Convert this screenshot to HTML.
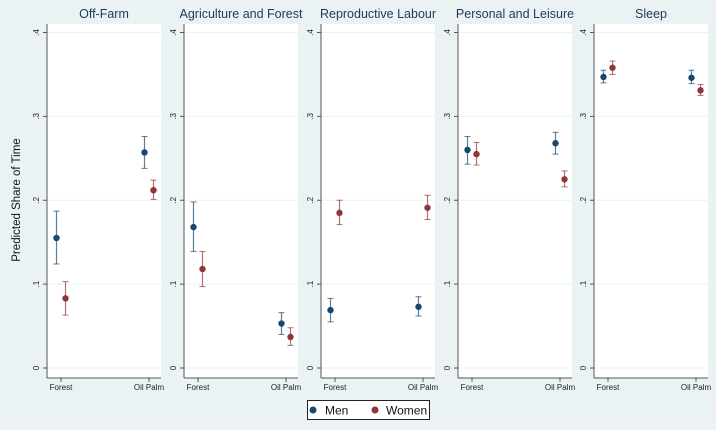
<!DOCTYPE html>
<html><head><meta charset="utf-8"><style>
body{margin:0;background:#eaf2f3;}
svg{display:block;font-family:"Liberation Sans",sans-serif;}
</style></head><body>
<svg id="c" width="716" height="430">
<rect x="0" y="0" width="716" height="430" fill="#eaf2f3"/>
</svg>
<script>
const panels=["Off-Farm","Agriculture and Forest","Reproductive Labour","Personal and Leisure","Sleep"];
const categories=["Forest","Oil Palm"];
const yTicks=[0,0.1,0.2,0.3,0.4];
const yTickLabels=["0",".1",".2",".3",".4"];
// [panel][category] values
const menEst=[[0.155,0.257],[0.168,0.053],[0.069,0.073],[0.260,0.268],[0.347,0.346]];
const menLo=[[0.124,0.238],[0.139,0.040],[0.055,0.062],[0.243,0.255],[0.340,0.339]];
const menHi=[[0.187,0.276],[0.198,0.066],[0.083,0.085],[0.276,0.281],[0.355,0.355]];
const womenEst=[[0.083,0.212],[0.118,0.037],[0.185,0.191],[0.255,0.225],[0.358,0.331]];
const womenLo=[[0.063,0.201],[0.097,0.027],[0.171,0.177],[0.242,0.216],[0.350,0.325]];
const womenHi=[[0.103,0.224],[0.139,0.048],[0.200,0.206],[0.269,0.235],[0.366,0.338]];
const MEN="#1a476f",WOMEN="#90353b";
const svg=document.getElementById('c');const NS="http://www.w3.org/2000/svg";
function mk(t,a,p){const e=document.createElementNS(NS,t);for(const k in a)e.setAttribute(k,a[k]);(p||svg).appendChild(e);return e;}
const y=v=>368-v*838.75;
const px0=[47,184,321,458,594],pw=114;
const xc=(p,i)=>px0[p]+14+i*88;
panels.forEach((name,p)=>{
 const g=mk('g',{});
 
 
 const bg=mk('rect',{x:px0[p],y:24,width:pw,height:354,fill:'#fff'},g);
 
 
 const t=mk('text',{x:px0[p]+pw/2,y:18,'text-anchor':'middle','font-size':12.5,fill:'#1e3a5a'},g);t.textContent=name;
 
 
 yTicks.forEach((v,i)=>{
  mk('line',{x1:px0[p],x2:px0[p]+pw,y1:y(v),y2:y(v),stroke:'#eaf2f3','stroke-width':1},g);
  mk('line',{x1:px0[p]-4,x2:px0[p],y1:y(v),y2:y(v),stroke:'#555'},g);
  const l=mk('text',{x:0,y:0,transform:`translate(${px0[p]-8},${y(v)}) rotate(-90)`,'text-anchor':'middle','font-size':8,fill:'#222'},g);l.textContent=yTickLabels[i];
  
  
 });
 mk('line',{x1:px0[p],x2:px0[p],y1:24,y2:378,stroke:'#555'},g);
 mk('line',{x1:px0[p],x2:px0[p]+pw,y1:378,y2:378,stroke:'#555'},g);
 categories.forEach((c,i)=>{
  mk('line',{x1:xc(p,i),x2:xc(p,i),y1:378,y2:382,stroke:'#555'},g);
  const l=mk('text',{x:xc(p,i),y:390,'text-anchor':'middle','font-size':8,fill:'#222'},g);l.textContent=c;
  
  
  [[menEst,menLo,menHi,MEN,-4.5,'men'],[womenEst,womenLo,womenHi,WOMEN,4.5,'women']].forEach(([e,lo,hi,col,dx,nm])=>{
   const x=xc(p,i)+dx;
   mk('line',{x1:x,x2:x,y1:y(lo[p][i]),y2:y(hi[p][i]),stroke:col,'stroke-opacity':0.7,'stroke-width':1.2},g);
   mk('line',{x1:x-3,x2:x+3,y1:y(lo[p][i]),y2:y(lo[p][i]),stroke:col,'stroke-opacity':0.7},g);
   mk('line',{x1:x-3,x2:x+3,y1:y(hi[p][i]),y2:y(hi[p][i]),stroke:col,'stroke-opacity':0.7},g);
   const d=mk('circle',{cx:x,cy:y(e[p][i]),r:3.2,fill:col},g);
   
   
  });
 });
});
const yt=mk('text',{x:0,y:0,transform:'translate(20,200) rotate(-90)','text-anchor':'middle','font-size':11.5,fill:'#111'});yt.textContent="Predicted Share of Time";


const lg=mk('g',{});


mk('rect',{x:307.5,y:400.5,width:122,height:19,fill:'#fff',stroke:'#222'},lg);
mk('circle',{cx:313,cy:410,r:3.5,fill:MEN},lg);
const t1=mk('text',{x:325,y:414.5,'font-size':12,fill:'#111'},lg);t1.textContent="Men";


mk('circle',{cx:375,cy:410,r:3.5,fill:WOMEN},lg);
const t2=mk('text',{x:386,y:414.5,'font-size':12,fill:'#111'},lg);t2.textContent="Women";


</script>
</body></html>
